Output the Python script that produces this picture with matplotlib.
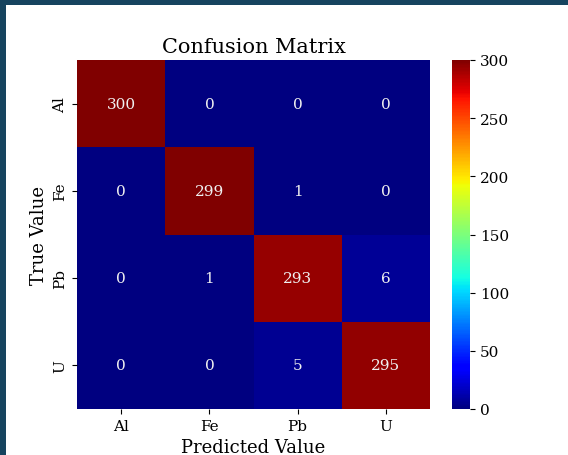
import matplotlib
matplotlib.use("Agg")
import matplotlib.pyplot as plt
import numpy as np
import seaborn as sns
from matplotlib.patches import Rectangle

labels = ["Al", "Fe", "Pb", "U"]
counts = np.array([
    [300, 0, 0, 0],
    [0, 299, 1, 0],
    [0, 1, 293, 6],
    [0, 0, 5, 295],
])

plt.rcParams['font.family'] = ['DejaVu Serif']

fig = plt.figure(figsize=(5.68, 4.56), dpi=100)
fig.patch.set_facecolor('#16445f')
# white page inside the dark screenshot frame
fig.patches.append(Rectangle((6 / 568, 0), 1, 1 - 6 / 456, transform=fig.transFigure,
                             facecolor='white', edgecolor='none', zorder=-10))

ax = fig.add_axes([77 / 568, 46 / 456, 353 / 568, 349 / 456])
cax = fig.add_axes([452 / 568, 46 / 456, 18 / 568, 349 / 456])

sns.heatmap(counts, annot=True, fmt='d', cmap='jet', vmin=0, vmax=300,
            xticklabels=labels, yticklabels=labels, ax=ax, cbar_ax=cax,
            annot_kws={'fontsize': 11, 'color': '#f0f0f0'})

ax.set_title('Confusion Matrix', fontsize=15)
ax.set_xlabel('Predicted Value', fontsize=13)
ax.set_ylabel('True Value', fontsize=13)
ax.tick_params(axis='both', labelsize=11)
plt.setp(ax.get_yticklabels(), rotation=90, va='center')
plt.setp(ax.get_xticklabels(), rotation=0)
cax.tick_params(labelsize=11)

fig.savefig('out.png', dpi=100, facecolor=fig.get_facecolor())
